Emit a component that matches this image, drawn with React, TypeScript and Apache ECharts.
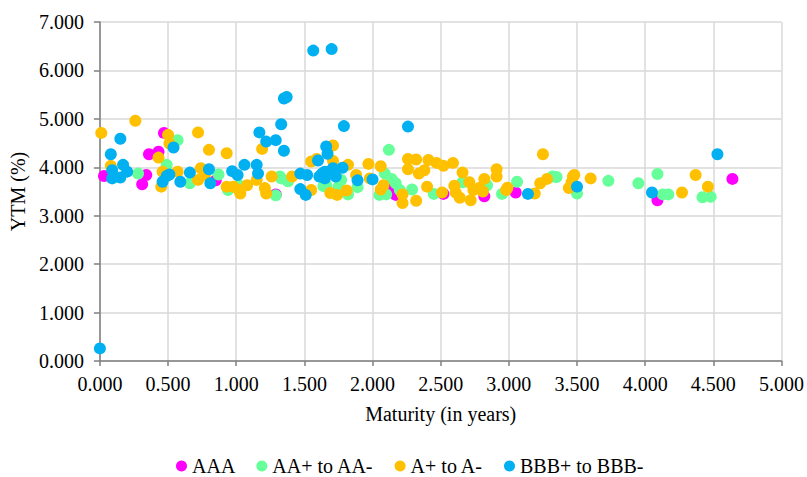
import React, { useEffect, useRef } from "react";
import * as echarts from "echarts";

const seriesNames = ["AAA", "AA+ to AA-", "A+ to A-", "BBB+ to BBB-"];
const seriesColors = ["#FF00FF", "#66FF99", "#FFC000", "#00B0F0"];

const xTicks = { min: 0, max: 5, interval: 0.5 };
const yTicks = { min: 0, max: 7, interval: 1 };

const aaa: number[][] = [
  [0.03, 3.82], [0.31, 3.65], [0.34, 3.84], [0.36, 4.27], [0.43, 4.32], [0.47, 4.71],
  [0.85, 3.73], [1.29, 3.44], [2.12, 3.58], [2.17, 3.43], [2.52, 3.45], [2.82, 3.40],
  [3.05, 3.48], [4.09, 3.32], [4.64, 3.76],
];

const aaPlus: number[][] = [
  [0.28, 3.87], [0.49, 4.05], [0.57, 4.56], [0.66, 3.67], [0.87, 3.85], [0.94, 3.53],
  [1.02, 3.63], [1.29, 3.42], [1.32, 3.81], [1.38, 3.71], [1.33, 3.77], [1.64, 3.61],
  [1.66, 3.63], [1.75, 3.60], [1.77, 3.74], [1.82, 3.44], [1.89, 3.59], [2.05, 3.43],
  [2.09, 3.87], [2.10, 3.44], [2.12, 4.36], [2.14, 3.76], [2.17, 3.67], [2.20, 3.53],
  [2.29, 3.54], [2.45, 3.45], [2.66, 3.69], [2.84, 3.63], [2.95, 3.45], [3.06, 3.70],
  [3.32, 3.81], [3.35, 3.80], [3.50, 3.46], [3.73, 3.72], [3.95, 3.67], [4.09, 3.86],
  [4.13, 3.44], [4.17, 3.44], [4.42, 3.38], [4.48, 3.39],
];

const aPlus: number[][] = [
  [0.01, 4.71], [0.26, 4.96], [0.08, 4.03], [0.43, 4.20], [0.45, 3.60], [0.46, 3.91],
  [0.50, 4.67], [0.51, 4.49], [0.57, 3.91], [0.72, 4.72], [0.72, 3.74], [0.74, 3.98],
  [0.77, 3.84], [0.80, 4.36], [0.93, 4.29], [0.93, 3.60], [0.98, 3.60], [1.03, 3.46],
  [1.02, 3.53], [1.08, 3.63], [1.15, 3.74], [1.19, 4.38], [1.21, 3.57], [1.22, 3.46],
  [1.26, 3.81], [1.41, 3.81], [1.55, 3.53], [1.55, 4.12], [1.59, 4.17], [1.71, 4.45],
  [1.71, 4.13], [1.69, 3.47], [1.74, 3.43], [1.81, 3.52], [1.82, 4.05], [1.88, 3.84],
  [1.97, 4.07], [1.98, 3.77], [2.06, 4.02], [2.08, 3.63], [2.06, 3.54], [2.22, 3.44],
  [2.22, 3.26], [2.32, 3.31], [2.26, 4.17], [2.32, 4.16], [2.26, 3.96], [2.34, 3.87],
  [2.38, 3.94], [2.40, 3.60], [2.41, 4.15], [2.47, 4.09], [2.52, 4.03], [2.51, 3.48],
  [2.59, 4.09], [2.60, 3.62], [2.61, 3.48], [2.64, 3.37], [2.66, 3.89], [2.71, 3.69],
  [2.72, 3.32], [2.74, 3.53], [2.78, 3.57], [2.81, 3.50], [2.82, 3.76], [2.91, 3.96],
  [2.91, 3.81], [2.98, 3.53], [2.99, 3.58], [3.19, 3.46], [3.23, 3.67], [3.25, 4.27],
  [3.28, 3.76], [3.44, 3.57], [3.46, 3.69], [3.47, 3.81], [3.48, 3.84], [3.60, 3.77],
  [4.27, 3.48], [4.37, 3.84], [4.46, 3.60],
];

const bbbPlus: number[][] = [
  [0.00, 0.26], [0.08, 4.27], [0.15, 4.59], [0.09, 3.94], [0.09, 3.77], [0.15, 3.79],
  [0.17, 4.05], [0.20, 3.91], [0.46, 3.70], [0.49, 3.82], [0.51, 3.85], [0.54, 4.41],
  [0.59, 3.70], [0.66, 3.89], [0.80, 3.96], [0.81, 3.67], [0.97, 3.92], [1.01, 3.84],
  [1.06, 4.05], [1.15, 4.05], [1.16, 3.87], [1.17, 4.72], [1.22, 4.53], [1.29, 4.56],
  [1.33, 4.89], [1.35, 4.34], [1.35, 5.42], [1.37, 5.45], [1.47, 3.87], [1.47, 3.55],
  [1.51, 3.43], [1.52, 3.84], [1.565, 6.41], [1.60, 4.14], [1.61, 3.81], [1.63, 3.87],
  [1.65, 3.77], [1.66, 4.43], [1.67, 4.28], [1.65, 3.91], [1.70, 3.94], [1.70, 6.44],
  [1.71, 3.98], [1.73, 3.81], [1.78, 3.99], [1.79, 4.85], [1.89, 3.73], [2.00, 3.75],
  [2.26, 4.84], [3.14, 3.45], [3.50, 3.60], [4.05, 3.48], [4.53, 4.27],
];

const allData = [aaa, aaPlus, aPlus, bbbPlus];

const FONT = "Liberation Serif";
const FS = 20;

export default function App() {
  const ref = useRef<HTMLDivElement>(null);
  useEffect(() => {
    if (!ref.current) return;
    const chart = echarts.init(ref.current, undefined, { renderer: "svg" });
    chart.setOption({
      animation: false,
      backgroundColor: "#ffffff",
      textStyle: { fontFamily: FONT, color: "#000" },
      grid: { left: 97, right: 24, top: 22, bottom: 116, containLabel: false },
      legend: {
        top: 456,
        left: 176,
        padding: 0,
        icon: "circle",
        itemWidth: 11,
        itemHeight: 11,
        itemGap: 21,
        data: seriesNames,
        textStyle: { fontFamily: FONT, fontSize: FS, color: "#000", lineHeight: 20 },
      },
      xAxis: {
        type: "value",
        min: xTicks.min,
        max: xTicks.max,
        interval: xTicks.interval,
        name: "Maturity (in years)",
        nameLocation: "middle",
        nameGap: 43,
        nameTextStyle: { fontFamily: FONT, fontSize: FS, color: "#000" },
        axisLine: { show: true, onZero: false, lineStyle: { color: "#7f7f7f", width: 1.5 } },
        axisTick: { show: true, length: 5, lineStyle: { color: "#7f7f7f", width: 1.5 } },
        axisLabel: {
          margin: 13,
          fontFamily: FONT,
          fontSize: FS,
          color: "#000",
          formatter: (v: number) => v.toFixed(3),
        },
        splitLine: { show: true, lineStyle: { color: "#d9d9d9", width: 1.5 } },
      },
      yAxis: {
        type: "value",
        min: yTicks.min,
        max: yTicks.max,
        interval: yTicks.interval,
        name: "YTM (%)",
        nameLocation: "middle",
        nameGap: 68,
        nameTextStyle: { fontFamily: FONT, fontSize: FS, color: "#000" },
        axisLine: { show: true, onZero: false, lineStyle: { color: "#7f7f7f", width: 1.5 } },
        axisTick: { show: true, length: 6, lineStyle: { color: "#7f7f7f", width: 1.5 } },
        axisLabel: {
          margin: 16,
          fontFamily: FONT,
          fontSize: FS,
          color: "#000",
          formatter: (v: number) => v.toFixed(3),
        },
        splitLine: { show: true, lineStyle: { color: "#d9d9d9", width: 1.5 } },
      },
      series: seriesNames.map((name, i) => ({
        name,
        type: "scatter",
        data: allData[i],
        symbol: "circle",
        symbolSize: 12,
        itemStyle: { color: seriesColors[i], opacity: 1 },
        emphasis: { disabled: true },
      })),
    });
    return () => chart.dispose();
  }, []);
  return (
    <div
      ref={ref}
      style={{ position: "absolute", left: 0, top: 0, width: 807, height: 477 }}
    />
  );
}
